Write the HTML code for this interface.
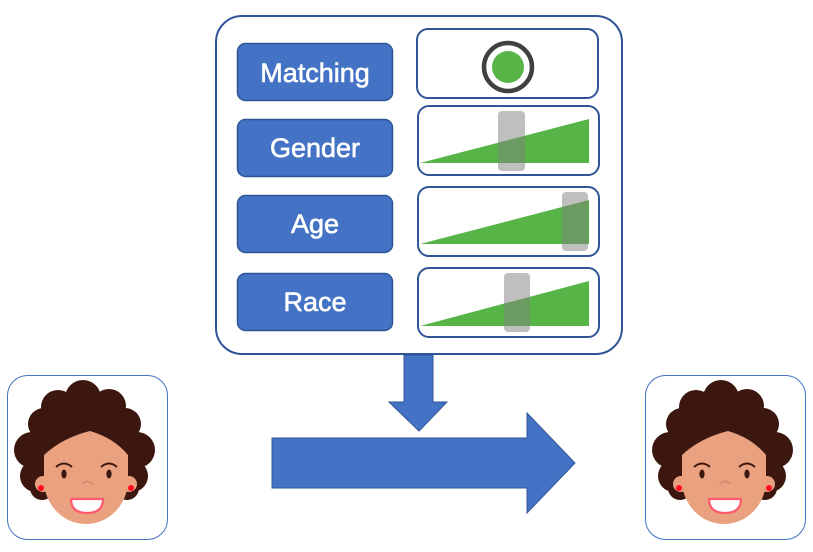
<!DOCTYPE html>
<html><head><meta charset="utf-8"><style>
html,body{margin:0;padding:0;background:#fff;width:813px;height:552px;overflow:hidden}
svg{display:block}
text{font-family:"Liberation Sans",sans-serif;fill:#fff;font-size:27px;stroke:#fff;stroke-width:0.6px}
</style></head><body>
<svg width="813" height="552" viewBox="0 0 813 552" xmlns="http://www.w3.org/2000/svg">
<defs>
<g id="face">
  <!-- hair -->
  <g fill="#3C170F">
    <circle cx="83" cy="398" r="18"/>
    <circle cx="58" cy="407" r="17"/>
    <circle cx="109" cy="406" r="17"/>
    <circle cx="44" cy="424" r="16"/>
    <circle cx="125" cy="424" r="16"/>
    <circle cx="32" cy="450" r="18"/>
    <circle cx="137" cy="450" r="18"/>
    <circle cx="36" cy="476" r="16"/>
    <circle cx="132" cy="476" r="16"/>
    <circle cx="42" cy="488" r="12"/>
    <circle cx="127" cy="488" r="12"/>
    <circle cx="84" cy="445" r="50"/>
  </g>
  <!-- ears -->
  <circle cx="43" cy="484" r="8" fill="#E8A07E"/>
  <circle cx="129" cy="484" r="8" fill="#E8A07E"/>
  <!-- face -->
  <path d="M44 455 Q62 438 90 431 Q114 438 128 455 L128 480 A42 44 0 0 1 44 480 Z" fill="#E9A17F"/>
  <!-- earrings -->
  <circle cx="41" cy="488" r="3" fill="#FF0A1E"/>
  <circle cx="131" cy="488" r="3" fill="#FF0A1E"/>
  <!-- eyes -->
  <ellipse cx="64" cy="474" rx="2.6" ry="4.5" fill="#3C170F"/>
  <ellipse cx="109" cy="474" rx="2.6" ry="4.5" fill="#3C170F"/>
  <path d="M56 467 Q64 460 72 467" stroke="#3C170F" stroke-width="2" fill="none"/>
  <path d="M101 467 Q109 460 117 467" stroke="#3C170F" stroke-width="2" fill="none"/>
  <!-- nose -->
  <path d="M82 484 Q87 479 93 484" stroke="#D48D6E" stroke-width="2" fill="none"/>
  <!-- mouth -->
  <path d="M71 499 L103 499 Q103 513 87 513 Q71 513 71 499 Z" fill="#fff" stroke="#FF5A6E" stroke-width="2.2" stroke-linejoin="round"/>
</g>
</defs>

<!-- main box -->
<rect x="216" y="16" width="406" height="338" rx="26" ry="26" fill="#fff" stroke="#2F5597" stroke-width="2"/>

<!-- label buttons -->
<g fill="#4472C4" stroke="#2F5597" stroke-width="1.5">
  <rect x="237.5" y="43.5" width="155" height="57" rx="8"/>
  <rect x="237.5" y="119.5" width="155" height="57" rx="8"/>
  <rect x="237.5" y="195.5" width="155" height="57" rx="8"/>
  <rect x="237.5" y="273.5" width="155" height="57" rx="8"/>
</g>
<text x="315" y="82" text-anchor="middle">Matching</text>
<text x="315" y="157" text-anchor="middle">Gender</text>
<text x="315" y="233" text-anchor="middle">Age</text>
<text x="315" y="311" text-anchor="middle">Race</text>

<!-- right panels -->
<g fill="#fff" stroke="#2F5597" stroke-width="2">
  <rect x="417" y="29" width="181" height="69" rx="11"/>
  <rect x="418" y="106" width="181" height="69" rx="11"/>
  <rect x="418" y="187" width="181" height="69" rx="11"/>
  <rect x="418" y="268" width="181" height="69" rx="11"/>
</g>

<!-- matching radio -->
<circle cx="508" cy="67" r="24" fill="#fff" stroke="#404040" stroke-width="4.5"/>
<circle cx="508" cy="67" r="16" fill="#57B447"/>

<!-- triangles -->
<g fill="#57B447">
  <polygon points="420,163 589,163 589,119"/>
  <polygon points="420,244 589,244 589,200"/>
  <polygon points="420,326 589,326 589,281"/>
</g>
<!-- thumbs -->
<g fill="rgba(128,128,128,0.5)">
  <rect x="498" y="111" width="27" height="60" rx="4"/>
  <rect x="562" y="192" width="26" height="59" rx="4"/>
  <rect x="504" y="273" width="26" height="59" rx="4"/>
</g>

<!-- down arrow -->
<polygon points="404,355 433,355 433,402 447,402 419,431 389,402 404,402" fill="#4472C4" stroke="#2F5597" stroke-width="1"/>

<!-- right arrow -->
<polygon points="272,438 527,438 527,413 575,463 527,513 527,488 272,488" fill="#4472C4" stroke="#2F5597" stroke-width="1"/>

<!-- face boxes -->
<rect x="7.5" y="375.5" width="160" height="164" rx="20" fill="#fff" stroke="#4472C4" stroke-width="1"/>
<rect x="645.5" y="375.5" width="160" height="164" rx="20" fill="#fff" stroke="#4472C4" stroke-width="1"/>

<use href="#face"/>
<use href="#face" transform="translate(638,0)"/>
</svg>
</body></html>
